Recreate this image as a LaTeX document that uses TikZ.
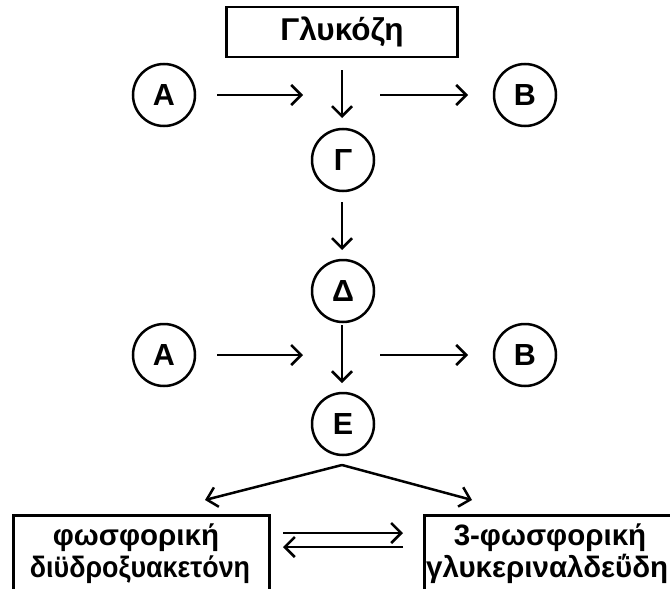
\documentclass[tikz,border=0pt]{standalone}
\usepackage{fontspec}
\setmainfont{Liberation Sans}
\usetikzlibrary{arrows.meta}
\begin{document}
\begin{tikzpicture}[x=1pt,y=-1pt,
  big/.style={font=\bfseries\fontsize{31.5}{34}\selectfont},
  small/.style={font=\bfseries\fontsize{29.5}{32}\selectfont, inner sep=0pt},
  circ/.style={font=\bfseries\fontsize{30.5}{34}\selectfont, draw, circle, line width=2.5pt, minimum size=62pt, inner sep=0pt},
  box/.style={draw, rectangle, line width=2.5pt, inner sep=0pt},
  arr/.style={line width=2.5pt, -{Straight Barb[length=10pt,width=20pt,line width=2.5pt]}}]
\clip (0,0) rectangle (670,589);
\useasboundingbox (0,0) rectangle (670,589);
% nodes
\node[box, big, minimum width=231pt, minimum height=50pt] (glu) at (342,32) {Γλυκόζη};
\node[circ] (A1) at (164,95) {A};
\node[circ] (B1) at (525,95) {B};
\node[circ] (G) at (343,160) {Γ};
\node[circ] (D) at (343,291) {Δ};
\node[circ] (A2) at (164,355) {A};
\node[circ] (B2) at (525,355) {B};
\node[circ] (E) at (343,424) {E};
\node[box, minimum width=256pt, minimum height=100pt, anchor=north west] (dhap) at (12,514) {};
\node[box, minimum width=256pt, minimum height=100pt, anchor=north west] (gap) at (423,514) {};
\node[small, anchor=base] (dhap1) at (136,545) {φωσφορική};
\node[small, anchor=base] (dhap2) at (140,577) {\scalebox{0.91}[1]{διϋδροξυακετόνη}};
\node[small, anchor=base] (gap1) at (550,545) {3-φωσφορική};
\node[small, anchor=base west] (gap2) at (426,577) {γλυκεριναλδεΰδη};
% free ends
\coordinate (a1s) at (217,95);
\coordinate (a1e) at (303,95);
\coordinate (b1s) at (380,95);
\coordinate (b1e) at (468,95);
\coordinate (d1s) at (342,70);
\coordinate (d1e) at (342,118);
\coordinate (d2s) at (342,202);
\coordinate (d2e) at (342,250);
\coordinate (a2s) at (217,355);
\coordinate (a2e) at (303,355);
\coordinate (b2s) at (380,355);
\coordinate (b2e) at (468,355);
\coordinate (d3s) at (342,325);
\coordinate (d3e) at (342,383);
\coordinate (apex) at (342,465);
\coordinate (lt) at (205,500);
\coordinate (rt) at (472,500);
\coordinate (eq1s) at (283,533);
\coordinate (eq1e) at (403,533);
\coordinate (eq2s) at (403,547);
\coordinate (eq2e) at (283,547);
% connectors
\draw[arr] (a1s) -- (a1e);
\draw[arr] (b1s) -- (b1e);
\draw[arr] (d1s) -- (d1e);
\draw[arr] (d2s) -- (d2e);
\draw[arr] (a2s) -- (a2e);
\draw[arr] (b2s) -- (b2e);
\draw[arr] (d3s) -- (d3e);
\draw[arr] (apex) -- (lt);
\draw[arr] (apex) -- (rt);
\draw[arr] (eq1s) -- (eq1e);
\draw[arr] (eq2s) -- (eq2e);
\end{tikzpicture}
\end{document}
